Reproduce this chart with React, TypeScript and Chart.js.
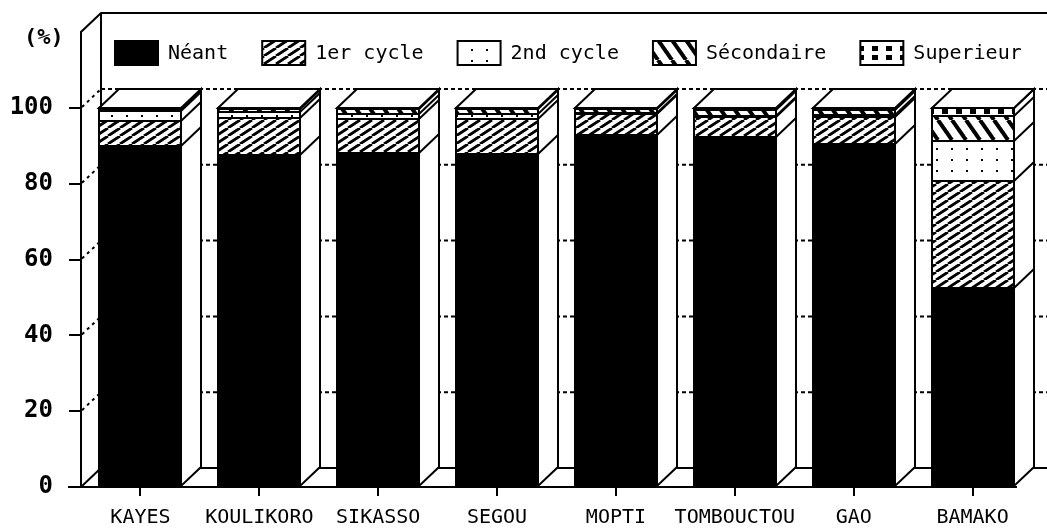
import React, { useEffect, useRef } from 'react';
import { Chart, registerables } from 'chart.js';

Chart.register(...registerables);

// ---------- data ----------
const categories = ['KAYES', 'KOULIKORO', 'SIKASSO', 'SEGOU', 'MOPTI', 'TOMBOUCTOU', 'GAO', 'BAMAKO'];
const neant = [89.9, 87.6, 88.1, 87.8, 92.9, 92.4, 90.5, 52.6];
const cycle1 = [6.6, 9.8, 9.0, 9.3, 5.5, 5.3, 7.1, 28.1];
const cycle2 = [2.6, 1.6, 1.3, 1.3, 0.3, 0.3, 0.5, 10.6];
const secondaire = [0.7, 0.8, 1.3, 1.3, 1.0, 1.5, 1.5, 6.6];
const superieur = [0.2, 0.2, 0.3, 0.3, 0.3, 0.5, 0.4, 2.1];
const seriesLabels = ['Néant', '1er cycle', '2nd cycle', 'Sécondaire', 'Superieur'];
const yTickValues = [0, 20, 40, 60, 80, 100];
const yUnitLabel = '(%)';

// ---------- look ----------
const W = 1047;
const H = 528;
const DX = 20;
const DY = -19;
const MONO = '"DejaVu Sans Mono", monospace';

function tile(w: number, h: number, draw: (g: CanvasRenderingContext2D) => void): CanvasPattern | string {
  const c = document.createElement('canvas');
  c.width = w;
  c.height = h;
  const g = c.getContext('2d');
  if (!g) return '#fff';
  g.fillStyle = '#fff';
  g.fillRect(0, 0, w, h);
  draw(g);
  const p = g.createPattern(c, 'repeat');
  return p || '#fff';
}

function makeFills(): (CanvasPattern | string)[] {
  const hatch = tile(12, 8, (g) => {
    g.strokeStyle = '#000';
    g.lineWidth = 2.8;
    for (let k = -1; k <= 1; k++) {
      g.beginPath();
      g.moveTo(k * 12, 8);
      g.lineTo(k * 12 + 12, 0);
      g.stroke();
    }
  });
  const dots = tile(15, 11, (g) => {
    g.fillStyle = '#000';
    g.fillRect(6, 5, 2, 2);
  });
  const back = tile(14, 20, (g) => {
    g.strokeStyle = '#000';
    g.lineWidth = 4;
    for (let k = -1; k <= 1; k++) {
      g.beginPath();
      g.moveTo(k * 14, 0);
      g.lineTo(k * 14 + 14, 20);
      g.stroke();
    }
  });
  const teeth = tile(14, 9, (g) => {
    g.fillStyle = '#000';
    g.fillRect(4, 1, 6, 5);
  });
  return ['#000', hatch, dots, back, teeth];
}

function makeThreeD(fills: (CanvasPattern | string)[]) {
  return {
    id: 'threeD',
    beforeDatasetsDraw(chart: any) {
      const { ctx, chartArea } = chart;
      const ys = chart.scales.y;
      const left = chartArea.left;
      const bottom = chartArea.bottom;
      const frameTop = 13;
      ctx.save();
      ctx.strokeStyle = '#000';
      ctx.lineWidth = 2;
      for (const v of yTickValues) {
        const py = ys.getPixelForValue(v);
        ctx.setLineDash(v === 0 ? [] : [4, 3]);
        ctx.beginPath();
        ctx.moveTo(left + DX, py + DY);
        ctx.lineTo(W, py + DY);
        ctx.stroke();
        ctx.setLineDash(v === 0 ? [] : [3, 4]);
        ctx.beginPath();
        ctx.moveTo(left + 1, py - 1);
        ctx.lineTo(left + DX, py + DY);
        ctx.stroke();
      }
      ctx.setLineDash([]);
      ctx.beginPath();
      ctx.moveTo(left, bottom);
      ctx.lineTo(left, frameTop - DY);
      ctx.lineTo(left + DX, frameTop);
      ctx.lineTo(W, frameTop);
      ctx.stroke();
      ctx.beginPath();
      ctx.moveTo(left + DX, frameTop);
      ctx.lineTo(left + DX, bottom + DY);
      ctx.stroke();
      ctx.restore();
    },
    afterDatasetsDraw(chart: any) {
      const { ctx, chartArea } = chart;
      const metas = chart.data.datasets.map((_: any, i: number) => chart.getDatasetMeta(i));
      ctx.save();
      ctx.strokeStyle = '#000';
      ctx.lineWidth = 2;
      ctx.lineJoin = 'miter';
      let lastRight = chartArea.right;
      for (let i = 0; i < categories.length; i++) {
        const bars = metas.map((m: any) => m.data[i]).filter((b: any) => !!b);
        if (!bars.length) continue;
        const b0 = bars[0];
        const l = Math.round(b0.x - b0.width / 2);
        const r = Math.round(b0.x + b0.width / 2);
        const base = Math.round(b0.base);
        lastRight = r;
        const top = Math.round(Math.min(...bars.map((b: any) => b.y)));
        // front outlines of each segment
        for (const b of bars) {
          const yt = Math.round(b.y);
          const yb = Math.round(b.base);
          ctx.strokeRect(l, yt, r - l, yb - yt);
        }
        // side face
        ctx.fillStyle = '#fff';
        ctx.beginPath();
        ctx.moveTo(r, top);
        ctx.lineTo(r + DX, top + DY);
        ctx.lineTo(r + DX, base + DY);
        ctx.lineTo(r, base);
        ctx.closePath();
        ctx.fill();
        ctx.stroke();
        for (const b of bars) {
          const yt = Math.round(b.y);
          ctx.beginPath();
          ctx.moveTo(r, yt);
          ctx.lineTo(r + DX, yt + DY);
          ctx.stroke();
        }
        // top face
        ctx.beginPath();
        ctx.moveTo(l, top);
        ctx.lineTo(l + DX, top + DY);
        ctx.lineTo(r + DX, top + DY);
        ctx.lineTo(r, top);
        ctx.closePath();
        ctx.fill();
        ctx.stroke();
      }
      ctx.beginPath();
      ctx.moveTo(chartArea.left - 13, chartArea.bottom);
      ctx.lineTo(lastRight + 3, chartArea.bottom);
      ctx.stroke();

      // legend
      ctx.font = '20px ' + MONO;
      ctx.textBaseline = 'middle';
      ctx.textAlign = 'left';
      let lx = 115;
      const ly = 53;
      const bw = 43;
      const bh = 24;
      seriesLabels.forEach((label, k) => {
        ctx.fillStyle = fills[k] as any;
        ctx.fillRect(lx, ly - bh / 2, bw, bh);
        ctx.strokeRect(lx, ly - bh / 2, bw, bh);
        ctx.fillStyle = '#000';
        ctx.fillText(label, lx + bw + 10, ly + 1);
        lx += bw + 10 + ctx.measureText(label).width + 34;
      });

      ctx.font = 'bold 22px ' + MONO;
      ctx.fillText(yUnitLabel, 24, 38);
      ctx.restore();
    },
  };
}

export default function App() {
  const ref = useRef<HTMLCanvasElement | null>(null);
  useEffect(() => {
    const canvas = ref.current;
    if (!canvas) return;
    const fills = makeFills();
    const series = [neant, cycle1, cycle2, secondaire, superieur];
    const chart: any = new Chart(canvas, {
      type: 'bar',
      data: {
        labels: categories,
        datasets: seriesLabels.map((label, k) => ({
          label,
          data: series[k],
          backgroundColor: fills[k] as any,
          borderWidth: 0,
          barPercentage: 0.69,
          categoryPercentage: 1,
        })),
      },
      options: {
        responsive: false,
        animation: false,
        devicePixelRatio: 1,
        layout: { padding: { top: 108, left: 0, right: 15, bottom: 0 } },
        plugins: { legend: { display: false }, tooltip: { enabled: false } },
        scales: {
          x: {
            stacked: true,
            border: { display: false },
            grid: { offset: false, drawOnChartArea: false, drawTicks: true, tickLength: 9, color: '#000', lineWidth: 2 },
            ticks: { color: '#000', padding: 10, font: { family: MONO, size: 20 }, maxRotation: 0, autoSkip: false },
            afterFit: (s: any) => { s.height = 41; },
          },
          y: {
            stacked: true,
            min: 0,
            max: 100,
            border: { display: false },
            grid: { drawOnChartArea: false, drawTicks: true, tickLength: 12, color: '#000', lineWidth: 2 },
            ticks: { stepSize: 20, color: '#000', padding: 16, font: { family: MONO, size: 24, weight: 'bold' } },
            afterFit: (s: any) => { s.width = 81; },
          },
        },
      },
      plugins: [makeThreeD(fills)],
    });
    return () => chart.destroy();
  }, []);
  return (
    <div style={{ position: 'absolute', left: 0, top: 0, width: W, height: H, background: '#fff' }}>
      <canvas ref={ref} width={W} height={H} style={{ display: 'block' }} />
    </div>
  );
}
